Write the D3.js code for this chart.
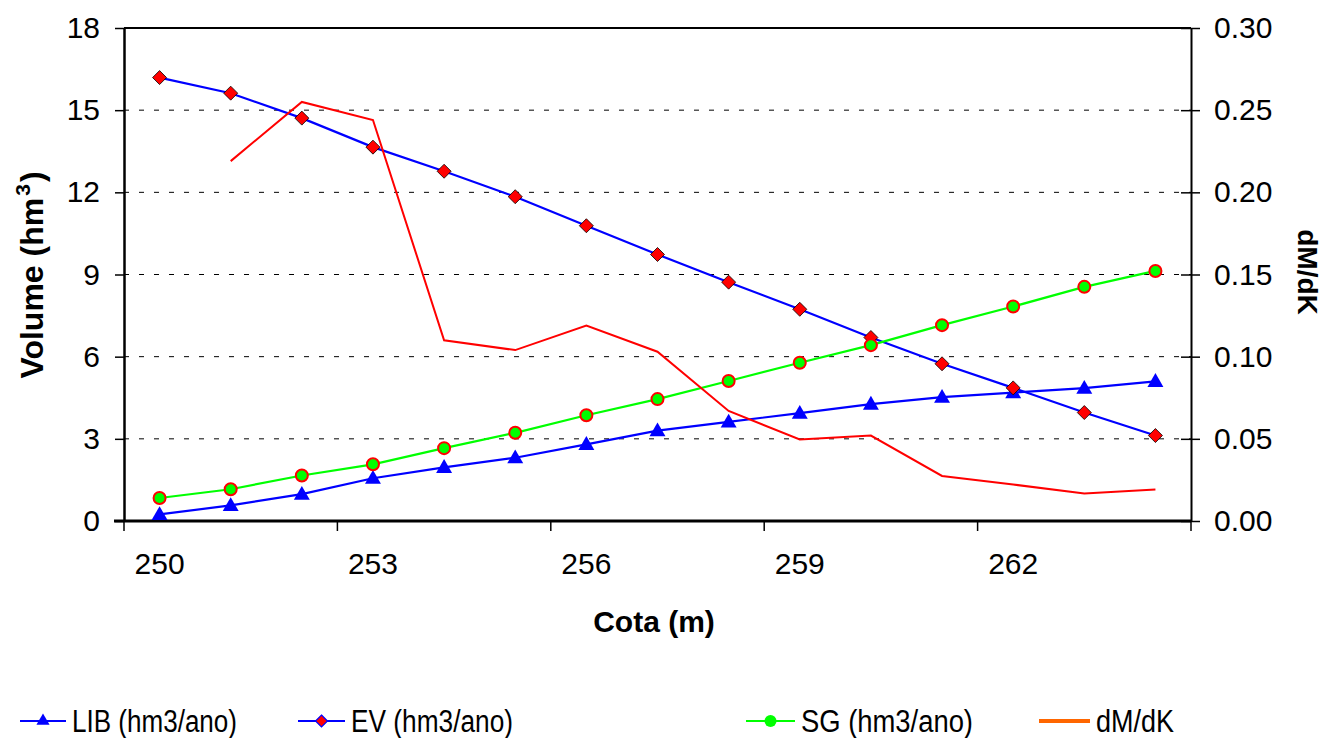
<!DOCTYPE html>
<html>
<head>
<meta charset="utf-8">
<script src="https://cdn.jsdelivr.net/npm/d3@7"></script>
<style>
  html, body { margin: 0; padding: 0; background: #fff; }
  svg { display: block; font-family: "Liberation Sans", Arial, sans-serif; }
</style>
</head>
<body>
<svg id="chart" width="1322" height="738"></svg>
<script>
// Cota (m) categories
const cotas = [250, 251, 252, 253, 254, 255, 256, 257, 258, 259, 260, 261, 262, 263, 264];
const xTickLabels = [250, 253, 256, 259, 262];

// Volumes (hm3/ano) on the left axis
const lib = [0.24, 0.57, 0.98, 1.56, 1.96, 2.31, 2.80, 3.30, 3.62, 3.94, 4.27, 4.52, 4.69, 4.85, 5.10];
const ev  = [16.19, 15.62, 14.71, 13.65, 12.77, 11.84, 10.78, 9.73, 8.72, 7.73, 6.70, 5.74, 4.86, 3.96, 3.12];
const sg  = [0.84, 1.16, 1.66, 2.07, 2.66, 3.22, 3.86, 4.45, 5.11, 5.78, 6.42, 7.15, 7.83, 8.55, 9.13];

// dM/dK on the right axis (no value at the first cota)
const dmdk = [null, 0.219, 0.255, 0.244, 0.110, 0.104, 0.119, 0.103, 0.067, 0.0496, 0.052, 0.0274, 0.0222, 0.0167, 0.0191];

const yLeftTicks = [0, 3, 6, 9, 12, 15, 18];
const yRightTicks = [0, 0.05, 0.10, 0.15, 0.20, 0.25, 0.30];

const svg = d3.select("#chart");
const L = 124, R = 1191, T = 28, B = 521;
const tickFont = 30;

const x = d3.scaleBand().domain(cotas).range([L, R]).padding(0);
const cx = d => x(d) + x.bandwidth() / 2;
const yL = d3.scaleLinear().domain([0, 18]).range([B, T]);
const yR = d3.scaleLinear().domain([0, 0.30]).range([B, T]);

// dashed gridlines
svg.append("g").selectAll("line")
  .data(yLeftTicks.filter(v => v > 0 && v < 18))
  .join("line")
  .attr("x1", L).attr("x2", R)
  .attr("y1", d => yL(d)).attr("y2", d => yL(d))
  .attr("stroke", "#000").attr("stroke-width", 1)
  .attr("stroke-dasharray", "5,10");

// plot frame: top edge
svg.append("line").attr("x1", L).attr("x2", R).attr("y1", T).attr("y2", T)
  .attr("stroke", "#000").attr("stroke-width", 2);

// left axis
const gL = svg.append("g").attr("transform", `translate(${L},0)`)
  .call(d3.axisLeft(yL).tickValues(yLeftTicks).tickSize(9).tickSizeOuter(0).tickFormat(d3.format("d")));
gL.select(".domain").attr("stroke-width", 2.5);
gL.selectAll(".tick line").attr("stroke-width", 1.5);
gL.selectAll(".tick text").attr("font-size", tickFont).attr("font-family", "Liberation Sans, Arial, sans-serif")
  .attr("x", -24).attr("fill", "#000");

// right axis (ticks cross the axis line)
const gR = svg.append("g").attr("transform", `translate(${R},0)`)
  .call(d3.axisRight(yR).tickValues(yRightTicks).tickSize(9).tickSizeOuter(0).tickFormat(d3.format(".2f")));
gR.select(".domain").attr("stroke-width", 2);
gR.selectAll(".tick line").attr("x1", -10).attr("stroke-width", 1.5);
gR.selectAll(".tick text").attr("font-size", tickFont).attr("font-family", "Liberation Sans, Arial, sans-serif")
  .attr("x", 23).attr("fill", "#000");

// bottom axis: labels centred on categories, ticks on category boundaries
const gB = svg.append("g").attr("transform", `translate(0,${B})`)
  .call(d3.axisBottom(x).tickValues(xTickLabels).tickSize(0).tickSizeOuter(0));
gB.select(".domain").remove();
gB.selectAll(".tick text").attr("font-size", tickFont).attr("font-family", "Liberation Sans, Arial, sans-serif")
  .attr("y", 32).attr("fill", "#000");
svg.append("line").attr("x1", L - 10).attr("x2", R).attr("y1", B).attr("y2", B)
  .attr("stroke", "#000").attr("stroke-width", 3);
svg.append("g").selectAll("line")
  .data(xTickLabels.concat([null]))
  .join("line")
  .attr("x1", d => d === null ? R : x(d)).attr("x2", d => d === null ? R : x(d))
  .attr("y1", B).attr("y2", B + 10)
  .attr("stroke", "#000").attr("stroke-width", 1.5);

// axis titles
svg.append("text")
  .attr("transform", "translate(43,275) rotate(-90)")
  .attr("text-anchor", "middle").attr("font-size", 32).attr("font-weight", "bold")
  .html('Volume (hm<tspan dx="2" dy="-13" font-size="21">3</tspan><tspan dx="2" dy="13">)</tspan>');
svg.append("text")
  .attr("transform", "translate(1298,272) rotate(90)")
  .attr("text-anchor", "middle").attr("font-size", 28).attr("font-weight", "bold")
  .text("dM/dK");
svg.append("text")
  .attr("x", 654).attr("y", 632)
  .attr("text-anchor", "middle").attr("font-size", 30).attr("font-weight", "bold")
  .text("Cota (m)");

// series
const lineL = d3.line().defined(d => d[1] != null).x(d => cx(d[0])).y(d => yL(d[1]));
const lineR = d3.line().defined(d => d[1] != null).x(d => cx(d[0])).y(d => yR(d[1]));
const pairs = arr => cotas.map((c, i) => [c, arr[i]]);

const tri = d3.symbol().type(d3.symbolTriangle).size(110);
const dia = s => `M0,${-s}L${s},0L0,${s}L${-s},0Z`;

// LIB
svg.append("path").attr("d", lineL(pairs(lib))).attr("fill", "none")
  .attr("stroke", "#0000FF").attr("stroke-width", 2.2);
svg.append("g").selectAll("path").data(pairs(lib)).join("path")
  .attr("transform", d => `translate(${cx(d[0])},${yL(d[1]) + 1})`)
  .attr("d", tri).attr("fill", "#0000FF");

// EV
svg.append("path").attr("d", lineL(pairs(ev))).attr("fill", "none")
  .attr("stroke", "#0000FF").attr("stroke-width", 2.2);
svg.append("g").selectAll("path").data(pairs(ev)).join("path")
  .attr("transform", d => `translate(${cx(d[0])},${yL(d[1])})`)
  .attr("d", dia(7)).attr("fill", "#FF0000").attr("stroke", "#000").attr("stroke-width", 0.8);

// SG
svg.append("path").attr("d", lineL(pairs(sg))).attr("fill", "none")
  .attr("stroke", "#00FF00").attr("stroke-width", 2.2);
svg.append("g").selectAll("circle").data(pairs(sg)).join("circle")
  .attr("cx", d => cx(d[0])).attr("cy", d => yL(d[1])).attr("r", 6)
  .attr("fill", "#00FF00").attr("stroke", "#FF0000").attr("stroke-width", 2);

// dM/dK
svg.append("path").attr("d", lineR(pairs(dmdk))).attr("fill", "none")
  .attr("stroke", "#FF0000").attr("stroke-width", 2);

// legend
const ly = 721;
const leg = svg.append("g").attr("font-size", 31);
const items = [
  { name: "LIB (hm3/ano)", x0: 20, x1: 66, w: 165, color: "#0000FF", mark: "tri" },
  { name: "EV (hm3/ano)", x0: 298, x1: 345, w: 162, color: "#0000FF", mark: "dia" },
  { name: "SG (hm3/ano)", x0: 746, x1: 795, w: 172, color: "#00FF00", mark: "circ" },
  { name: "dM/dK", x0: 1039, x1: 1090, w: 78, color: "#FF6600", mark: null }
];
items.forEach(it => {
  leg.append("line").attr("x1", it.x0).attr("x2", it.x1).attr("y1", ly).attr("y2", ly)
    .attr("stroke", it.color).attr("stroke-width", it.mark ? 2 : 4);
  const mx = (it.x0 + it.x1) / 2;
  if (it.mark === "tri") {
    leg.append("path").attr("transform", `translate(${mx},${ly})`)
      .attr("d", d3.symbol().type(d3.symbolTriangle).size(75)).attr("fill", "#0000FF");
  } else if (it.mark === "dia") {
    leg.append("path").attr("transform", `translate(${mx},${ly})`)
      .attr("d", dia(6)).attr("fill", "#FF0000").attr("stroke", "#0000FF").attr("stroke-width", 1.2);
  } else if (it.mark === "circ") {
    leg.append("circle").attr("cx", mx).attr("cy", ly).attr("r", 6).attr("fill", "#00FF00");
  }
  leg.append("text").attr("x", it.x1 + 6).attr("y", ly + 10.5)
    .attr("textLength", it.w).attr("lengthAdjust", "spacingAndGlyphs")
    .text(it.name);
});
</script>
</body>
</html>
